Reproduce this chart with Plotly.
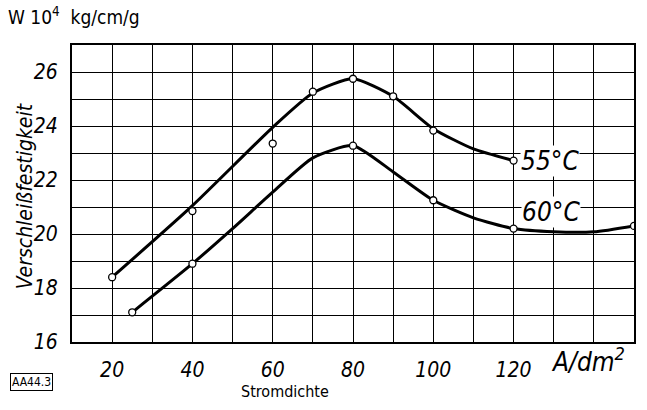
import plotly.graph_objects as go

# Smooth curve knots (drawn lines)
curve55_x = [20, 40, 60, 70, 80, 90, 100, 110, 120]
curve55_y = [18.4, 21.05, 23.95, 25.22, 25.75, 25.1, 23.9, 23.15, 22.72]
curve60_x = [25, 40, 50, 60, 70, 80, 90, 100, 110, 120, 130, 140, 150]
curve60_y = [17.1, 18.9, 20.2, 21.55, 22.82, 23.27, 22.3, 21.25, 20.6, 20.2, 20.08, 20.08, 20.3]

# Measured points (open circles)
pts55_x = [20, 40, 60, 70, 80, 90, 100, 120]
pts55_y = [18.4, 20.85, 23.35, 25.27, 25.75, 25.1, 23.83, 22.72]
pts60_x = [25, 40, 80, 100, 120, 150]
pts60_y = [17.1, 18.9, 23.27, 21.25, 20.2, 20.3]

x_tick_vals = [20, 40, 60, 80, 100, 120]
x_tick_labels = ["20", "40", "60", "80", "100", "120"]
y_tick_vals = [16, 18, 20, 22, 24, 26]
y_tick_labels = ["16", "18", "20", "22", "24", "26"]

NARROW = "DejaVu Sans Condensed, Liberation Sans Narrow, Arial Narrow, sans-serif"
PLAIN = "DejaVu Sans Condensed, Liberation Sans, sans-serif"

fig = go.Figure()
for cx, cy in [(curve55_x, curve55_y), (curve60_x, curve60_y)]:
    fig.add_trace(go.Scatter(x=cx, y=cy, mode="lines",
                             line=dict(color="black", width=3, shape="spline", smoothing=0.6),
                             hoverinfo="skip", showlegend=False))
for px, py in [(pts55_x, pts55_y), (pts60_x, pts60_y)]:
    fig.add_trace(go.Scatter(x=px, y=py, mode="markers",
                             marker=dict(symbol="circle", size=7, color="white",
                                         line=dict(color="black", width=1.3)),
                             showlegend=False))

fig.update_layout(
    width=647, height=410,
    margin=dict(l=72, r=11, t=45, b=68),
    paper_bgcolor="white", plot_bgcolor="white",
    font=dict(family=NARROW, color="black"),
)
fig.update_xaxes(
    range=[10, 150], tickvals=x_tick_vals, ticktext=x_tick_labels,
    showgrid=True, gridcolor="black", gridwidth=1.3,
    minor=dict(dtick=10, tick0=10, showgrid=True, gridcolor="black", gridwidth=1.3),
    showline=True, linecolor="black", linewidth=2, mirror=True,
    ticks="", ticklabelstandoff=8, zeroline=False,
    tickfont=dict(family=NARROW, size=21, style="italic", color="black"),
)
fig.update_yaxes(
    range=[16, 27], tickvals=y_tick_vals, ticktext=y_tick_labels,
    showgrid=True, gridcolor="black", gridwidth=1.3,
    minor=dict(dtick=1, tick0=16, showgrid=True, gridcolor="black", gridwidth=1.3),
    showline=True, linecolor="black", linewidth=2, mirror=True,
    ticks="", ticklabelstandoff=8, zeroline=False,
    tickfont=dict(family=NARROW, size=21, style="italic", color="black"),
)

def px_ann(x, y, text, size, family=NARROW, style="italic", xanchor="center", **kw):
    pw, ph = 647 - 72 - 11, 410 - 45 - 68
    fig.add_annotation(x=(x - 72) / pw, y=(410 - y - 68) / ph, xref="paper", yref="paper",
                       text=text, showarrow=False, xanchor=xanchor, yanchor="middle",
                       font=dict(family=family, size=size, style=style, color="black"), **kw)

fig.add_annotation(x=129, y=22.7, xref="x", yref="y", text="55°C", showarrow=False,
                   bgcolor="white", borderpad=0,
                   font=dict(family=NARROW, size=26, style="italic", color="black"))
fig.add_annotation(x=129.3, y=20.8, xref="x", yref="y", text="60°C", showarrow=False,
                   bgcolor="white", borderpad=0,
                   font=dict(family=NARROW, size=26, style="italic", color="black"))
px_ann(590, 360, "A/dm<sup>2</sup>", 26)
px_ann(286, 392, "Stromdichte", 16, family=PLAIN, style="normal")
px_ann(6, 16, "W 10<sup>4</sup>  kg/cm/g", 19, family=PLAIN, style="normal", xanchor="left")
px_ann(31, 382, "AA44.3", 12, family=PLAIN, style="normal",
       bordercolor="black", borderwidth=1, borderpad=1)
px_ann(25, 196, "Verschleißfestigkeit", 21, textangle=-90)

fig.write_html("out.html")
